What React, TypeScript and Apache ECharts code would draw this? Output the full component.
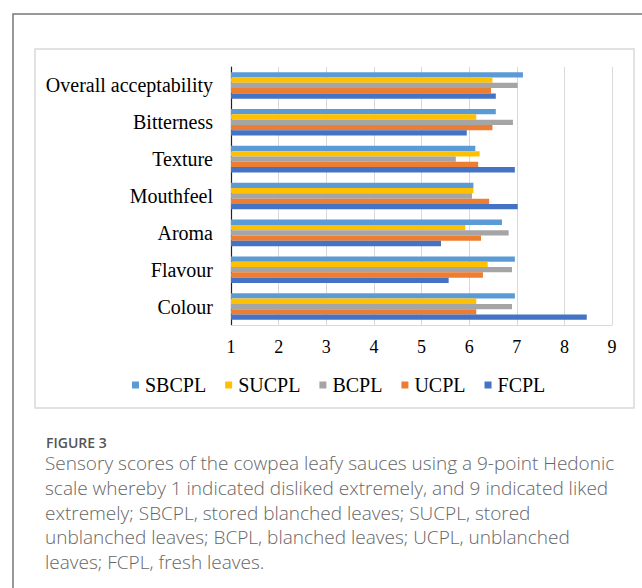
import React, { useEffect, useRef } from "react";
import * as echarts from "echarts";

const categories = ["Colour", "Flavour", "Aroma", "Mouthfeel", "Texture", "Bitterness", "Overall acceptability"];
const legendOrder = ["SBCPL", "SUCPL", "BCPL", "UCPL", "FCPL"];
// values listed bottom-to-top category order (Colour ... Overall acceptability)
const FCPL = [8.47, 5.57, 5.41, 7.02, 6.96, 5.95, 6.56];
const UCPL = [6.15, 6.29, 6.25, 6.42, 6.19, 6.49, 6.46];
const BCPL = [6.9, 6.9, 6.83, 6.06, 5.72, 6.92, 7.02];
const SUCPL = [6.15, 6.39, 5.92, 6.09, 6.22, 6.15, 6.49];
const SBCPL = [6.96, 6.96, 6.69, 6.09, 6.13, 6.56, 7.13];
const xTicks = [1, 9, 1]; // min, max, interval

const captionTitle = "FIGURE 3";
const captionLines = [
  "Sensory scores of the cowpea leafy sauces using a 9-point Hedonic",
  "scale whereby 1 indicated disliked extremely, and 9 indicated liked",
  "extremely; SBCPL, stored blanched leaves; SUCPL, stored",
  "unblanched leaves; BCPL, blanched leaves; UCPL, unblanched",
  "leaves; FCPL, fresh leaves.",
];

// series order: first series drawn at top of each category group
const seriesDefs = [
  { name: "SBCPL", data: SBCPL, color: "#5B9BD5" },
  { name: "SUCPL", data: SUCPL, color: "#FFC000" },
  { name: "BCPL", data: BCPL, color: "#A5A5A5" },
  { name: "UCPL", data: UCPL, color: "#ED7D31" },
  { name: "FCPL", data: FCPL, color: "#4472C4" },
];

const SERIF = "'Liberation Serif', 'Times New Roman', serif";
const SANS = "'Open Sans', Lato, sans-serif";

export default function App() {
  const ref = useRef<HTMLDivElement>(null);
  useEffect(() => {
    if (!ref.current) return;
    const chart = echarts.init(ref.current, undefined, { renderer: "svg" });
    chart.setOption({
      animation: false,
      backgroundColor: "#ffffff",
      grid: { left: 231, right: 30, top: 67, bottom: 263, containLabel: false },
      xAxis: {
        type: "value",
        min: xTicks[0],
        max: xTicks[1],
        interval: xTicks[2],
        axisLine: { show: true, lineStyle: { color: "#d9d9d9", width: 1 } },
        axisTick: { show: false },
        splitLine: { show: true, lineStyle: { color: "#d9d9d9", width: 1 } },
        axisLabel: { fontFamily: SERIF, fontSize: 18, color: "#000", margin: 13 },
      },
      yAxis: {
        type: "category",
        data: categories,
        axisLine: { show: true, lineStyle: { color: "#222", width: 1.2 } },
        axisTick: { show: false },
        axisLabel: { fontFamily: SERIF, fontSize: 20, color: "#000", margin: 18 },
      },
      legend: {
        data: legendOrder,
        left: 127,
        top: 370,
        itemWidth: 7,
        itemHeight: 7,
        itemGap: 19,
        icon: "rect",
        textStyle: { fontFamily: SERIF, fontSize: 20, color: "#000", padding: [0, 0, 0, 1] },
      },
      series: seriesDefs.map((s) => ({
        name: s.name,
        type: "bar",
        data: s.data,
        barGap: "0%",
        barCategoryGap: "28%",
        itemStyle: { color: s.color },
      })),
      graphic: [
        {
          type: "rect",
          shape: { x: 13, y: 14, width: 700, height: 700 },
          style: { fill: "none", stroke: "#777", lineWidth: 1.5 },
          silent: true,
        },
        {
          type: "rect",
          shape: { x: 35, y: 49, width: 599, height: 359 },
          style: { fill: "none", stroke: "#d9d9d9", lineWidth: 1.5 },
          silent: true,
        },
        {
          type: "text",
          x: 46,
          y: 442,
          style: { text: captionTitle, fontFamily: SANS, fontSize: 14, fontWeight: 600, fill: "#555", verticalAlign: "middle" },
        },
        ...captionLines.map((line, i) => ({
          type: "text",
          x: 45,
          y: 463 + i * 24.8,
          style: { text: line, fontFamily: SANS, fontSize: 19, fontWeight: 300, fill: "#666", verticalAlign: "middle" },
        })),
      ],
    });
    return () => chart.dispose();
  }, []);
  return <div ref={ref} style={{ position: "fixed", left: 0, top: 0, width: 642, height: 588 }} />;
}
